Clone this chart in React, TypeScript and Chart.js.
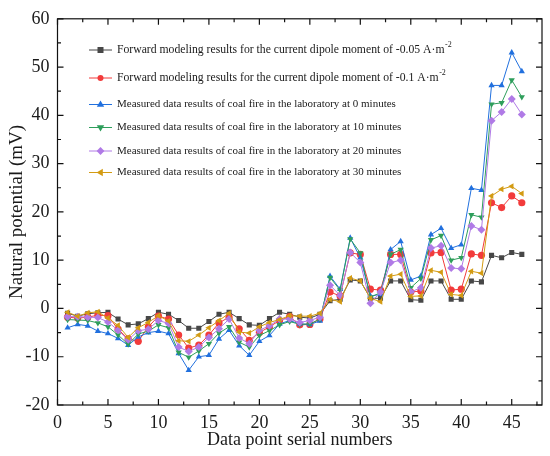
import { useEffect, useRef } from "react";
import { Chart, registerables } from "chart.js";

Chart.register(...registerables);

const points = Array.from({ length: 46 }, (_, i) => i + 1);

const model005 = [
  -1.0, -1.6, -1.1, -0.9, -0.8, -2.2, -3.4, -3.2, -2.1, -0.8, -1.2, -2.5, -4.1, -4.1, -2.7, -1.2,
  -0.8, -2.1, -3.4, -3.5, -2.1, -0.8, -1.2, -1.8, -2.0, -1.2, 1.6, 1.9, 5.9, 5.7, 2.1, 2.1, 5.7,
  5.7, 1.8, 1.7, 5.7, 5.7, 1.9, 1.9, 5.7, 5.5, 11.0, 10.5, 11.6, 11.2,
];
const model01 = [
  -1.8, -2.0, -1.8, -1.4, -1.5, -4.3, -6.3, -6.8, -3.8, -1.6, -2.2, -5.5, -8.2, -7.6, -5.5, -3.0,
  -1.8, -4.2, -6.6, -5.0, -3.8, -2.5, -1.7, -3.4, -3.3, -2.2, 3.4, 2.6, 11.5, 11.2, 4.0, 3.8, 11.2,
  11.2, 3.4, 3.6, 11.5, 11.6, 3.8, 4.0, 11.3, 11.0, 21.9, 20.9, 23.3, 21.9,
];
const measured0 = [
  -4.0, -3.3, -3.6, -4.7, -5.2, -6.2, -7.6, -5.9, -5.0, -4.7, -5.2, -9.3, -12.8, -10.0, -9.7, -6.3,
  -4.5, -7.7, -9.7, -6.8, -5.6, -3.2, -2.5, -3.2, -3.3, -2.6, 6.7, 4.0, 14.6, 10.5, 2.6, 2.9, 12.2,
  13.9, 5.9, 6.7, 15.3, 16.6, 12.5, 13.2, 24.9, 24.5, 46.2, 46.2, 53.0, 49.1,
];
const measured10 = [
  -2.3, -2.4, -2.5, -3.0, -3.8, -5.5, -7.4, -5.3, -4.7, -3.4, -4.0, -9.1, -10.1, -8.8, -7.3, -5.1,
  -3.8, -7.0, -8.0, -5.6, -4.6, -3.4, -2.7, -3.3, -3.2, -2.2, 6.4, 3.8, 14.4, 11.5, 2.3, 3.3, 11.2,
  12.2, 4.3, 6.2, 14.2, 15.1, 10.0, 10.5, 19.4, 18.9, 42.3, 42.6, 47.3, 43.8,
];
const measured20 = [
  -1.7, -1.7, -1.8, -1.9, -2.8, -4.5, -6.5, -4.6, -4.3, -2.5, -3.1, -8.0, -8.9, -8.0, -6.0, -4.2,
  -2.2, -6.1, -7.3, -4.5, -3.6, -2.2, -2.2, -2.9, -2.5, -1.8, 4.8, 2.7, 11.6, 9.5, 1.1, 3.4, 9.5,
  10.0, 3.4, 4.3, 12.5, 13.0, 8.4, 8.2, 17.1, 16.3, 38.9, 40.7, 43.4, 40.2,
];
const measured30 = [
  -0.8, -1.6, -0.9, -0.7, -2.0, -3.5, -6.0, -4.0, -2.9, -1.5, -2.6, -6.7, -6.8, -5.5, -4.0, -2.5,
  -1.0, -4.9, -5.1, -3.8, -2.9, -2.3, -1.5, -1.6, -1.6, -1.0, 1.9, 1.4, 6.3, 5.7, 2.1, 1.4, 6.7,
  7.1, 2.5, 2.6, 7.9, 7.5, 2.9, 2.7, 7.7, 7.3, 23.3, 24.7, 25.3, 23.8,
];

const seriesLabels = [
  "Forward modeling results for the current dipole moment of -0.05 A·m",
  "Forward modeling results for the current dipole moment of -0.1 A·m",
  "Measured data results of coal fire in the laboratory at 0 minutes",
  "Measured data results of coal fire in the laboratory at 10 minutes",
  "Measured data results of coal fire in the laboratory at 20 minutes",
  "Measured data results of coal fire in the laboratory at 30 minutes",
];
const seriesValues = [model005, model01, measured0, measured10, measured20, measured30];
const seriesColors = ["#474747", "#f23b3b", "#2170de", "#2e9e5b", "#b07ae6", "#d39b13"];
const seriesShapes = ["rect", "circle", "triangle", "triangle", "rectRot", "triangle"];
const seriesRotation = [0, 0, 0, 180, 0, -90];

const FONT = "'Liberation Serif', 'Times New Roman', serif";

function drawMarker(ctx: CanvasRenderingContext2D, style: string, rot: number, x: number, y: number, r: number) {
  ctx.save();
  ctx.translate(x, y);
  ctx.rotate((rot * Math.PI) / 180);
  ctx.beginPath();
  if (style === "rect") {
    ctx.rect(-r, -r, 2 * r, 2 * r);
  } else if (style === "circle") {
    ctx.arc(0, 0, r, 0, Math.PI * 2);
  } else if (style === "rectRot") {
    const d = r * 1.3;
    ctx.moveTo(0, -d);
    ctx.lineTo(d, 0);
    ctx.lineTo(0, d);
    ctx.lineTo(-d, 0);
    ctx.closePath();
  } else {
    const d = r * 1.3;
    ctx.moveTo(0, -d);
    ctx.lineTo(d * 0.95, d * 0.6);
    ctx.lineTo(-d * 0.95, d * 0.6);
    ctx.closePath();
  }
  ctx.fill();
  ctx.restore();
}

// inward ticks on all four sides, box frame, and legend inside the plot
const framePlugin = {
  id: "frame",
  afterDraw(chart: any) {
    const { ctx, chartArea: a, scales } = chart;
    ctx.save();
    ctx.strokeStyle = "#111";
    ctx.lineWidth = 1.2;
    ctx.strokeRect(a.left, a.top, a.right - a.left, a.bottom - a.top);
    ctx.beginPath();
    for (let v = 0; v <= 48; v += 2.5) {
      const x = scales.x.getPixelForValue(v);
      const len = v % 5 === 0 ? 6 : 3.5;
      ctx.moveTo(x, a.bottom);
      ctx.lineTo(x, a.bottom - len);
      ctx.moveTo(x, a.top);
      ctx.lineTo(x, a.top + len);
    }
    for (let v = -20; v <= 60; v += 5) {
      const y = scales.y.getPixelForValue(v);
      const len = v % 10 === 0 ? 6 : 3.5;
      ctx.moveTo(a.left, y);
      ctx.lineTo(a.left + len, y);
      ctx.moveTo(a.right, y);
      ctx.lineTo(a.right - len, y);
    }
    ctx.stroke();

    // legend
    const rows = [50, 78, 104.5, 127.5, 151, 172.5];
    chart.data.datasets.forEach((ds: any, i: number) => {
      const y = rows[i];
      ctx.strokeStyle = ds.borderColor;
      ctx.lineWidth = 1;
      ctx.beginPath();
      ctx.moveTo(89, y);
      ctx.lineTo(112, y);
      ctx.stroke();
      ctx.fillStyle = ds.backgroundColor;
      drawMarker(ctx, ds.pointStyle, ds.pointRotation, 100.5, y, 3);
      const size = i < 2 ? 11.7 : 11;
      ctx.font = `${size}px ${FONT}`;
      ctx.fillStyle = "#1a1a1a";
      ctx.textBaseline = "middle";
      ctx.fillText(ds.label, 117, y);
      if (i < 2) {
        const w = ctx.measureText(ds.label).width;
        ctx.font = `8px ${FONT}`;
        ctx.fillText("-2", 117 + w + 0.5, y - 5);
      }
    });
    ctx.restore();
  },
};

export default function App() {
  const chartRef = useRef<HTMLCanvasElement>(null);

  useEffect(() => {
    if (!chartRef.current) return;
    const ctx = chartRef.current.getContext("2d");
    if (!ctx) return;

    const chart = new Chart(ctx, {
      type: "line",
      data: {
        labels: points,
        datasets: seriesLabels.map((label, i) => ({
          label,
          data: points.map((p, j) => ({ x: p, y: seriesValues[i][j] })),
          borderColor: seriesColors[i],
          backgroundColor: seriesColors[i],
          borderWidth: 1,
          pointStyle: seriesShapes[i] as any,
          pointRotation: seriesRotation[i],
          pointRadius: i === 4 ? 4 : 3.6,
          pointBorderWidth: 0,
          tension: 0,
          order: 6 - i,
        })),
      },
      options: {
        responsive: false,
        animation: false,
        layout: { padding: { top: 15, right: 8, left: 0, bottom: 0 } },
        plugins: {
          legend: { display: false },
          tooltip: { enabled: false },
        },
        scales: {
          x: {
            type: "linear",
            min: 0,
            max: 48,
            grid: { display: false, drawTicks: false },
            border: { display: false },
            afterFit: (scale: any) => {
              scale.height = 51;
            },
            ticks: {
              stepSize: 5,
              includeBounds: false,
              autoSkip: false,
              maxRotation: 0,
              padding: 7,
              color: "#1a1a1a",
              font: { family: FONT, size: 18 },
            },
            title: {
              display: true,
              text: "Data point serial numbers",
              color: "#1a1a1a",
              font: { family: FONT, size: 18 },
              padding: { top: 0, bottom: 5 },
            },
          },
          y: {
            min: -20,
            max: 60,
            grid: { display: false, drawTicks: false },
            border: { display: false },
            afterFit: (scale: any) => {
              scale.width = 57.5;
            },
            ticks: {
              stepSize: 10,
              padding: 8,
              color: "#1a1a1a",
              font: { family: FONT, size: 18 },
            },
            title: {
              display: true,
              text: "Natural potential (mV)",
              color: "#1a1a1a",
              font: { family: FONT, size: 19 },
              padding: { top: 6, bottom: 0 },
            },
          },
        },
      },
      plugins: [framePlugin],
    });

    return () => chart.destroy();
  }, []);

  return (
    <div style={{ position: "fixed", left: 0, top: 0, width: 550, height: 456, background: "#fff" }}>
      <canvas ref={chartRef} width={550} height={456} />
    </div>
  );
}
